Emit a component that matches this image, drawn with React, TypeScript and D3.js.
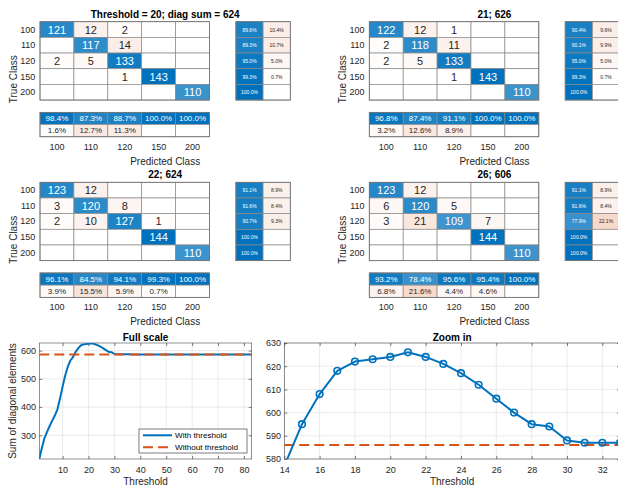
import React, { useEffect, useRef } from 'react';
import * as d3 from 'd3';

// class labels shared by all four confusion charts
const classes = ['100', '110', '120', '150', '200'];

const chartTitles = ['Threshold = 20; diag sum = 624', '21; 626', '22; 624', '26; 606'];

const matrix20 = [
  [121, 12, 2, 0, 0],
  [0, 117, 14, 0, 0],
  [2, 5, 133, 0, 0],
  [0, 0, 1, 143, 0],
  [0, 0, 0, 0, 110],
];
const matrix21 = [
  [122, 12, 1, 0, 0],
  [2, 118, 11, 0, 0],
  [2, 5, 133, 0, 0],
  [0, 0, 1, 143, 0],
  [0, 0, 0, 0, 110],
];
const matrix22 = [
  [123, 12, 0, 0, 0],
  [3, 120, 8, 0, 0],
  [2, 10, 127, 1, 0],
  [0, 0, 0, 144, 0],
  [0, 0, 0, 0, 110],
];
const matrix26 = [
  [123, 12, 0, 0, 0],
  [6, 120, 5, 0, 0],
  [3, 21, 109, 7, 0],
  [0, 0, 0, 144, 0],
  [0, 0, 0, 0, 110],
];

// sum of diagonal elements for threshold = 1, 2, 3, ...
const diagSum = [
  216, 255, 290, 312, 333, 352, 370, 392, 430, 473,
  512, 543, 565, 577, 595, 608, 618, 622, 623, 624,
  626, 624, 621, 617, 612, 606, 600, 595, 594, 588,
  587, 587, 587, 587, 587, 587, 586, 586, 586, 586,
  586, 586, 586, 586, 586, 586, 586, 586, 586, 586,
  586, 586, 586, 586, 586, 586, 586, 586, 586, 586,
  586, 586, 586, 586, 586, 586, 586, 586, 586, 586,
  586, 586, 586, 586, 586, 586, 586, 586, 586, 586,
  586, 586, 586,
];
const withoutThreshold = 586;

const fullXTicks = [10, 20, 30, 40, 50, 60, 70, 80];
const fullYTicks = [300, 400, 500, 600];
const zoomXTicks = [14, 16, 18, 20, 22, 24, 26, 28, 30, 32];
const zoomYTicks = [580, 590, 600, 610, 620, 630];

const FONT = '"Liberation Sans", Arial, Helvetica, sans-serif';
const BLUE = '#0072BD';
const ORANGE = '#D95319';
const INK = '#262626';
const CELL_LINE = '#8a8a8a';

const blueShade = d3.interpolateRgb('#ffffff', BLUE);
const orangeShade = d3.interpolateRgb('#ffffff', ORANGE);

function drawConfusion(root: any, matrix: number[][], title: string, ox: number, oy: number) {
  const cellW = 33.9;
  const cellH = 15.67;
  const mw = cellW * classes.length;
  const mh = cellH * classes.length;
  const g = root.append('g').attr('transform', `translate(${ox},${oy})`).attr('font-family', FONT);

  const x = d3.scaleBand<string>().domain(classes).range([0, mw]);
  const y = d3.scaleBand<string>().domain(classes).range([0, mh]);
  const maxVal = d3.max(matrix.flat()) as number;

  const cells = matrix.flatMap((row, i) => row.map((v, j) => ({ i, j, v })));
  g.selectAll('rect.cell')
    .data(cells)
    .enter()
    .append('rect')
    .attr('x', (d: any) => x(classes[d.j]))
    .attr('y', (d: any) => y(classes[d.i]))
    .attr('width', x.bandwidth())
    .attr('height', y.bandwidth())
    .attr('fill', (d: any) => (d.v === 0 ? '#fff' : (d.i === d.j ? blueShade : orangeShade)(d.v / maxVal)))
    .attr('stroke', CELL_LINE)
    .attr('stroke-width', 0.7);

  g.selectAll('text.cell')
    .data(cells.filter((d) => d.v > 0))
    .enter()
    .append('text')
    .attr('x', (d: any) => (x(classes[d.j]) as number) + x.bandwidth() / 2)
    .attr('y', (d: any) => (y(classes[d.i]) as number) + y.bandwidth() / 2)
    .attr('text-anchor', 'middle')
    .attr('dominant-baseline', 'central')
    .attr('font-size', 11)
    .attr('fill', (d: any) => (d.i === d.j || d.v / maxVal > 0.5 ? '#fff' : INK))
    .text((d: any) => d.v);

  g.append('rect')
    .attr('width', mw).attr('height', mh)
    .attr('fill', 'none').attr('stroke', '#6e6e6e').attr('stroke-width', 0.8);

  // row summary (right side)
  const sumKeys = ['correct', 'wrong'];
  const rx = d3.scaleBand<string>().domain(sumKeys).range([mw + 26.4, mw + 26.4 + 54.4]);
  const rowSum = matrix.flatMap((row, i) => {
    const total = d3.sum(row);
    const correct = row[i];
    return [
      { i, k: 'correct', n: correct, p: (100 * correct) / total },
      { i, k: 'wrong', n: total - correct, p: (100 * (total - correct)) / total },
    ];
  });
  g.selectAll('rect.rsum')
    .data(rowSum)
    .enter()
    .append('rect')
    .attr('x', (d: any) => rx(d.k))
    .attr('y', (d: any) => y(classes[d.i]))
    .attr('width', rx.bandwidth())
    .attr('height', y.bandwidth())
    .attr('fill', (d: any) => (d.n === 0 ? '#fff' : (d.k === 'correct' ? blueShade : orangeShade)(d.p / 100)))
    .attr('stroke', CELL_LINE)
    .attr('stroke-width', 0.7);
  g.selectAll('text.rsum')
    .data(rowSum.filter((d) => d.n > 0))
    .enter()
    .append('text')
    .attr('x', (d: any) => (rx(d.k) as number) + rx.bandwidth() / 2)
    .attr('y', (d: any) => (y(classes[d.i]) as number) + y.bandwidth() / 2)
    .attr('text-anchor', 'middle')
    .attr('dominant-baseline', 'central')
    .attr('font-size', 5)
    .attr('fill', (d: any) => (d.p > 50 ? '#fff' : INK))
    .text((d: any) => d.p.toFixed(1) + '%');
  g.append('rect')
    .attr('x', mw + 26.4).attr('width', 54.4).attr('height', mh)
    .attr('fill', 'none').attr('stroke', '#6e6e6e').attr('stroke-width', 0.8);

  // column summary (below)
  const cy = d3.scaleBand<string>().domain(sumKeys).range([mh + 12.3, mh + 12.3 + 24.4]);
  const colSum = classes.flatMap((c, j) => {
    const total = d3.sum(matrix, (row) => row[j]);
    const correct = matrix[j][j];
    return [
      { j, k: 'correct', n: correct, p: (100 * correct) / total },
      { j, k: 'wrong', n: total - correct, p: (100 * (total - correct)) / total },
    ];
  });
  g.selectAll('rect.csum')
    .data(colSum)
    .enter()
    .append('rect')
    .attr('x', (d: any) => x(classes[d.j]))
    .attr('y', (d: any) => cy(d.k))
    .attr('width', x.bandwidth())
    .attr('height', cy.bandwidth())
    .attr('fill', (d: any) => (d.n === 0 ? '#fff' : (d.k === 'correct' ? blueShade : orangeShade)(d.p / 100)))
    .attr('stroke', CELL_LINE)
    .attr('stroke-width', 0.7);
  g.selectAll('text.csum')
    .data(colSum.filter((d) => d.n > 0))
    .enter()
    .append('text')
    .attr('x', (d: any) => (x(classes[d.j]) as number) + x.bandwidth() / 2)
    .attr('y', (d: any) => (cy(d.k) as number) + cy.bandwidth() / 2)
    .attr('text-anchor', 'middle')
    .attr('dominant-baseline', 'central')
    .attr('font-size', 8)
    .attr('fill', (d: any) => (d.p > 50 ? '#fff' : INK))
    .text((d: any) => d.p.toFixed(1) + '%');
  g.append('rect')
    .attr('y', mh + 12.3).attr('width', mw).attr('height', 24.4)
    .attr('fill', 'none').attr('stroke', '#6e6e6e').attr('stroke-width', 0.8);

  // tick labels
  g.selectAll('text.rowlab')
    .data(classes)
    .enter()
    .append('text')
    .attr('x', -4.7)
    .attr('y', (d: string) => (y(d) as number) + y.bandwidth() / 2)
    .attr('text-anchor', 'end')
    .attr('dominant-baseline', 'central')
    .attr('font-size', 9)
    .attr('fill', INK)
    .text((d: string) => d);
  g.selectAll('text.collab')
    .data(classes)
    .enter()
    .append('text')
    .attr('x', (d: string) => (x(d) as number) + x.bandwidth() / 2)
    .attr('y', mh + 12.3 + 24.4 + 10)
    .attr('text-anchor', 'middle')
    .attr('dominant-baseline', 'central')
    .attr('font-size', 9)
    .attr('fill', INK)
    .text((d: string) => d);

  const fullW = mw + 26.4 + 54.4;
  g.append('text')
    .attr('x', fullW / 2).attr('y', mh + 61)
    .attr('text-anchor', 'middle').attr('dominant-baseline', 'central')
    .attr('font-size', 10).attr('fill', INK)
    .text('Predicted Class');
  g.append('text')
    .attr('transform', `translate(-26.7,${(mh + 36.7) / 2}) rotate(-90)`)
    .attr('text-anchor', 'middle').attr('dominant-baseline', 'central')
    .attr('font-size', 10).attr('fill', INK)
    .text('True Class');
  g.append('text')
    .attr('x', fullW / 2).attr('y', -7.4)
    .attr('text-anchor', 'middle').attr('dominant-baseline', 'central')
    .attr('font-size', 10).attr('font-weight', 'bold').attr('fill', '#000')
    .text(title);
}

function drawFrame(g: any, x: any, y: any, xTicks: number[], yTicks: number[]) {
  const [left, right] = x.range();
  const [bottom, top] = y.range();

  g.append('g').selectAll('line')
    .data(xTicks).enter().append('line')
    .attr('x1', (d: number) => x(d)).attr('x2', (d: number) => x(d))
    .attr('y1', top).attr('y2', bottom)
    .attr('stroke', '#dedede').attr('stroke-width', 0.6);
  g.append('g').selectAll('line')
    .data(yTicks).enter().append('line')
    .attr('x1', left).attr('x2', right)
    .attr('y1', (d: number) => y(d)).attr('y2', (d: number) => y(d))
    .attr('stroke', '#dedede').attr('stroke-width', 0.6);

  const style = (ax: any) => {
    ax.select('.domain').remove();
    ax.attr('font-size', 9).attr('font-family', FONT).attr('color', INK);
    ax.selectAll('line').attr('stroke-width', 0.6);
  };
  g.append('g').attr('transform', `translate(0,${bottom})`)
    .call(d3.axisBottom(x).tickValues(xTicks).tickSizeInner(-3).tickSizeOuter(0).tickPadding(7.5))
    .call(style);
  g.append('g').attr('transform', `translate(${left},0)`)
    .call(d3.axisLeft(y).tickValues(yTicks).tickSizeInner(-3).tickSizeOuter(0).tickPadding(3.3))
    .call(style);
  g.append('g').attr('transform', `translate(0,${top})`)
    .call(d3.axisTop(x).tickValues(xTicks).tickSizeInner(-3).tickSizeOuter(0).tickFormat(() => ''))
    .call(style);
  g.append('g').attr('transform', `translate(${right},0)`)
    .call(d3.axisRight(y).tickValues(yTicks).tickSizeInner(-3).tickSizeOuter(0).tickFormat(() => ''))
    .call(style);

  g.append('rect')
    .attr('x', left).attr('y', top).attr('width', right - left).attr('height', bottom - top)
    .attr('fill', 'none').attr('stroke', '#4a4a4a').attr('stroke-width', 0.6);
}

function App() {
  const svgRef = useRef<SVGSVGElement>(null);

  useEffect(() => {
    const svg = d3.select(svgRef.current);
    svg.selectAll('*').remove();

    const matrices = [matrix20, matrix21, matrix22, matrix26];
    const origins = [[40, 21.7], [369.3, 21.7], [40, 182.3], [369.3, 182.3]];
    matrices.forEach((m, k) => drawConfusion(svg, m, chartTitles[k], origins[k][0], origins[k][1]));

    const thresholds = d3.range(1, diagSum.length + 1);
    const points = diagSum.map((v, i) => [thresholds[i], v] as [number, number]);
    const defs = svg.append('defs');

    // ---- Full scale ----
    const xf = d3.scaleLinear().domain([1, 83]).range([39.3, 251.7]);
    const yf = d3.scaleLinear().domain([216, 627]).range([459, 343]);
    const gf = svg.append('g').attr('font-family', FONT);
    defs.append('clipPath').attr('id', 'clipFull').append('rect')
      .attr('x', 39.3).attr('y', 343).attr('width', 251.7 - 39.3).attr('height', 116);
    drawFrame(gf, xf, yf, fullXTicks, fullYTicks);

    const lineF = d3.line<[number, number]>().x((d) => xf(d[0])).y((d) => yf(d[1]));
    const plotF = gf.append('g').attr('clip-path', 'url(#clipFull)');
    plotF.append('path').datum(points).attr('d', lineF)
      .attr('fill', 'none').attr('stroke', BLUE).attr('stroke-width', 2).attr('stroke-linejoin', 'round');
    plotF.append('line')
      .attr('x1', xf(1)).attr('x2', xf(83)).attr('y1', yf(withoutThreshold)).attr('y2', yf(withoutThreshold))
      .attr('stroke', ORANGE).attr('stroke-width', 2).attr('stroke-dasharray', '10,5');

    gf.append('text').attr('x', (39.3 + 251.7) / 2).attr('y', 337)
      .attr('text-anchor', 'middle').attr('dominant-baseline', 'central')
      .attr('font-size', 10).attr('font-weight', 'bold').text('Full scale');
    gf.append('text').attr('x', (39.3 + 251.7) / 2).attr('y', 481)
      .attr('text-anchor', 'middle').attr('dominant-baseline', 'central')
      .attr('font-size', 10).attr('fill', INK).text('Threshold');
    gf.append('text').attr('transform', 'translate(12,401) rotate(-90)')
      .attr('text-anchor', 'middle').attr('dominant-baseline', 'central')
      .attr('font-size', 10).attr('fill', INK).text('Sum of diagonal elements');

    const lg = gf.append('g');
    lg.append('rect').attr('x', 139).attr('y', 429).attr('width', 108).attr('height', 24)
      .attr('fill', '#fff').attr('stroke', '#262626').attr('stroke-width', 0.6);
    const legendItems = [
      { label: 'With threshold', color: BLUE, dash: null },
      { label: 'Without threshold', color: ORANGE, dash: '10,5' },
    ];
    legendItems.forEach((it, i) => {
      const ly = 435.3 + i * 12;
      lg.append('line').attr('x1', 143).attr('x2', 172).attr('y1', ly).attr('y2', ly)
        .attr('stroke', it.color).attr('stroke-width', 2).attr('stroke-dasharray', it.dash);
      lg.append('text').attr('x', 175).attr('y', ly)
        .attr('dominant-baseline', 'central').attr('font-size', 8.1).attr('fill', '#000').text(it.label);
    });

    // ---- Zoom in ----
    const xz = d3.scaleLinear().domain([14, 33]).range([284.3, 620]);
    const yz = d3.scaleLinear().domain([580, 630]).range([459, 343]);
    const gz = svg.append('g').attr('font-family', FONT);
    defs.append('clipPath').attr('id', 'clipZoom').append('rect')
      .attr('x', 284.3).attr('y', 343).attr('width', 620 - 284.3).attr('height', 116);
    drawFrame(gz, xz, yz, zoomXTicks, zoomYTicks);

    const lineZ = d3.line<[number, number]>().x((d) => xz(d[0])).y((d) => yz(d[1]));
    const plotZ = gz.append('g').attr('clip-path', 'url(#clipZoom)');
    plotZ.append('line')
      .attr('x1', xz(14)).attr('x2', xz(33)).attr('y1', yz(withoutThreshold)).attr('y2', yz(withoutThreshold))
      .attr('stroke', ORANGE).attr('stroke-width', 2).attr('stroke-dasharray', '10,5');
    const zoomPts = points.filter((d) => d[0] >= 13 && d[0] <= 34);
    plotZ.append('path').datum(zoomPts).attr('d', lineZ)
      .attr('fill', 'none').attr('stroke', BLUE).attr('stroke-width', 2).attr('stroke-linejoin', 'round');
    plotZ.selectAll('circle')
      .data(zoomPts.filter((d) => d[1] >= 580 && d[0] >= 14))
      .enter().append('circle')
      .attr('cx', (d: any) => xz(d[0])).attr('cy', (d: any) => yz(d[1])).attr('r', 3.3)
      .attr('fill', 'none').attr('stroke', BLUE).attr('stroke-width', 1.6);

    gz.append('text').attr('x', (284.3 + 620) / 2).attr('y', 337)
      .attr('text-anchor', 'middle').attr('dominant-baseline', 'central')
      .attr('font-size', 10).attr('font-weight', 'bold').text('Zoom in');
    gz.append('text').attr('x', (284.3 + 620) / 2).attr('y', 481)
      .attr('text-anchor', 'middle').attr('dominant-baseline', 'central')
      .attr('font-size', 10).attr('fill', INK).text('Threshold');
  }, []);

  return (
    <svg
      ref={svgRef}
      width={618}
      height={486}
      style={{ position: 'absolute', left: 0, top: 0, background: '#fff' }}
    />
  );
}

export default App;
